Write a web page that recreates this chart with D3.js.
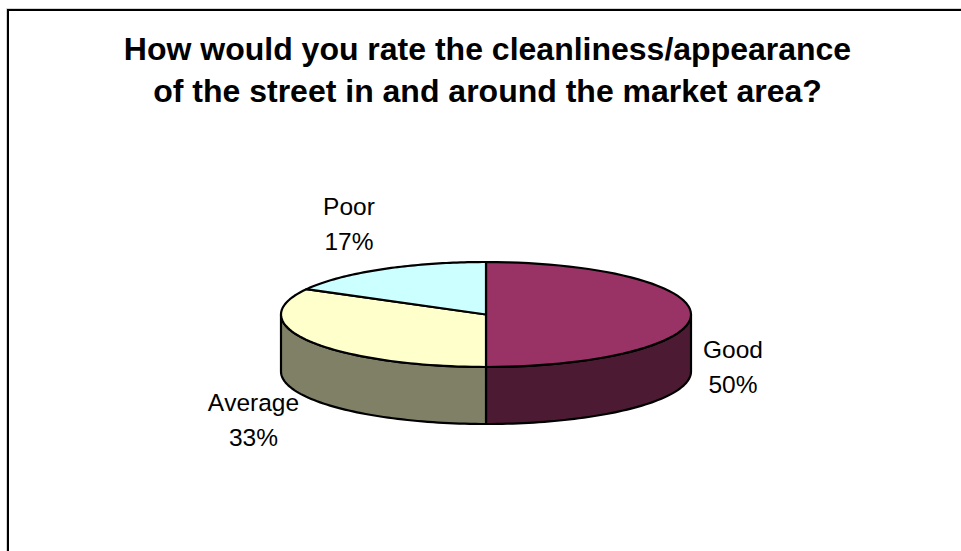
<!DOCTYPE html>
<html><head><meta charset="utf-8">
<style>html,body{margin:0;padding:0;background:#fff}svg{display:block}text{font-family:"Liberation Sans",Arial,sans-serif;fill:#000;font-kerning:none}</style>
<script src="https://cdn.jsdelivr.net/npm/d3@7"></script></head><body><script>
const categories = ["Good","Average","Poor"];
const percentages = [50,33,17];
const topColors = ["#993366","#ffffcc","#ccffff"];
const sideColors = ["#4d1a33","#808066","#668080"];
const titleLines = ["How would you rate the cleanliness/appearance","of the street in and around the market area?"];

const W=961,H=551,cx=486,cy=314.5,rx=205,ry=52.5,depth=57;
const svg=d3.select("body").append("svg").attr("width",W).attr("height",H);
// frame: open on the right and bottom, with a faint grey fringe outside
svg.append("path").attr("d",`M6.5,${H+2}V8.5H${W+2}`).attr("fill","none").attr("stroke","#d4d4d4").attr("stroke-width",1);
svg.append("path").attr("d",`M8,${H+2}V10H${W+2}`).attr("fill","none").attr("stroke","#000").attr("stroke-width",2);
svg.selectAll("text.t").data(titleLines).join("text").attr("class","t")
  .attr("x",487.5).attr("y",(d,i)=>60+i*41.5).attr("text-anchor","middle")
  .attr("font-size",32).attr("font-weight",700).text(d=>d);

const data=categories.map((c,i)=>({c,v:percentages[i],i}));
const arcs=d3.pie().sort(null).value(d=>d.v)(data);
const pt=a=>[cx+rx*Math.sin(a),cy-ry*Math.cos(a)];
const ring=(a0,a1,dy)=>d3.range(0,61).map(k=>{const p=pt(a0+(a1-a0)*k/60);return [p[0],p[1]+dy];});
const line=d3.line();
arcs.forEach(s=>{
  const a0=Math.max(s.startAngle,Math.PI/2),a1=Math.min(s.endAngle,1.5*Math.PI);
  if(a1<=a0)return;
  const pts=ring(a0,a1,0).concat(ring(a0,a1,depth).reverse());
  svg.append("path").attr("d",line(pts)+"Z").attr("fill",sideColors[s.index]).attr("stroke","#000").attr("stroke-width",2.2).attr("stroke-linejoin","round");
});
arcs.forEach(s=>{
  const pts=[[cx,cy]].concat(ring(s.startAngle,s.endAngle,0));
  svg.append("path").attr("d",line(pts)+"Z").attr("fill",topColors[s.index]).attr("stroke","#000").attr("stroke-width",2.2).attr("stroke-linejoin","round");
});
const labelPos=[[733,358],[253.5,411],[349,215]];
data.forEach((d,i)=>{
  const t=svg.append("text").attr("text-anchor","middle").attr("font-size",24.5);
  t.append("tspan").attr("x",labelPos[i][0]).attr("y",labelPos[i][1]).text(d.c);
  t.append("tspan").attr("x",labelPos[i][0]).attr("y",labelPos[i][1]+34.5).text(d.v+"%");
});
</script></body></html>
